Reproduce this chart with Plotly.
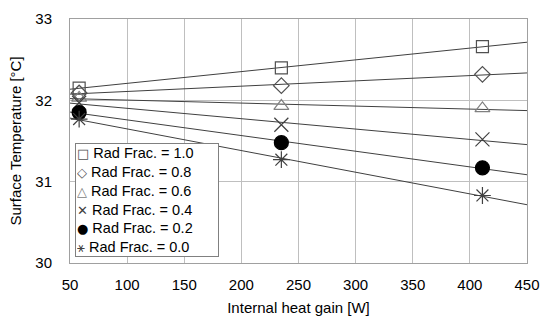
import numpy as np
import plotly.graph_objects as go

heat_gain = [58, 235, 411]
labels = ["Rad Frac. = 1.0", "Rad Frac. = 0.8", "Rad Frac. = 0.6",
          "Rad Frac. = 0.4", "Rad Frac. = 0.2", "Rad Frac. = 0.0"]
temp_10 = [32.15, 32.40, 32.66]
temp_08 = [32.09, 32.18, 32.32]
temp_06 = [32.03, 31.93, 31.90]
temp_04 = [31.97, 31.70, 31.52]
temp_02 = [31.85, 31.48, 31.17]
temp_00 = [31.77, 31.27, 30.83]
series = [temp_10, temp_08, temp_06, temp_04, temp_02, temp_00]
symbols = ["square-open", "diamond-open", "triangle-up-open",
           "x-thin-open", "circle", "asterisk-open"]
legend_glyphs = ["□", "◇", "△", "✕", "●", "⚹"]
colors = ["#505050", "#505050", "#808080", "#404040", "#000000", "#404040"]
sizes = [12, 12, 13, 14, 14, 14]
trend_x = [50, 450]

fig = go.Figure()
for ys in series:
    k, b = np.polyfit(heat_gain, ys, 1)
    fig.add_trace(go.Scatter(
        x=trend_x, y=[k * t + b for t in trend_x], mode="lines",
        line=dict(color="#404040", width=1), showlegend=False, hoverinfo="skip"))
for name, ys, sym, col, sz in zip(labels, series, symbols, colors, sizes):
    fig.add_trace(go.Scatter(
        x=heat_gain, y=ys, mode="markers", name=name, showlegend=False,
        marker=dict(symbol=sym, size=sz, color=col,
                    line=dict(color=col, width=1.2))))

# compact legend box (text legend with symbol glyphs)
legend_lines = [
    f'<span style="font-family:DejaVu Sans;font-size:13px;color:{c}">{g}</span> {lab}'
    for g, c, lab in zip(legend_glyphs, colors, labels)
]
fig.add_annotation(
    text="<br>".join(legend_lines), xref="paper", yref="paper",
    x=0.011, y=0.024, xanchor="left", yanchor="bottom", align="left",
    showarrow=False, bgcolor="white", bordercolor="#808080", borderwidth=1,
    borderpad=1, width=140,
    font=dict(size=14.5, family="Liberation Sans, Arial, sans-serif"))

fig.update_layout(
    width=550, height=326,
    margin=dict(l=70, r=22, t=10, b=63),
    paper_bgcolor="white", plot_bgcolor="white",
    font=dict(family="Liberation Sans, Arial, sans-serif", size=15, color="#000"),
    showlegend=False,
    xaxis=dict(range=[50, 450], tickvals=[50, 100, 150, 200, 250, 300, 350, 400, 450],
               showgrid=True, gridcolor="#bfbfbf", gridwidth=1,
               showline=True, linecolor="#a0a0a0", linewidth=1, mirror=True,
               zeroline=False, ticks="", automargin=True, ticklabelstandoff=8,
               title=dict(text="Internal heat gain [W]", font=dict(size=15), standoff=10)),
    yaxis=dict(range=[30, 33], tickvals=[30, 31, 32, 33],
               showgrid=True, gridcolor="#bfbfbf", gridwidth=1,
               showline=True, linecolor="#a0a0a0", linewidth=1, mirror=True,
               zeroline=False, ticks="", ticklabelstandoff=14, automargin=True,
               title=dict(text="Surface Temperature [°C]", font=dict(size=15), standoff=10)),
)
fig.write_html("out.html", post_script="document.body.style.margin='0';",
               config={"displayModeBar": False})
